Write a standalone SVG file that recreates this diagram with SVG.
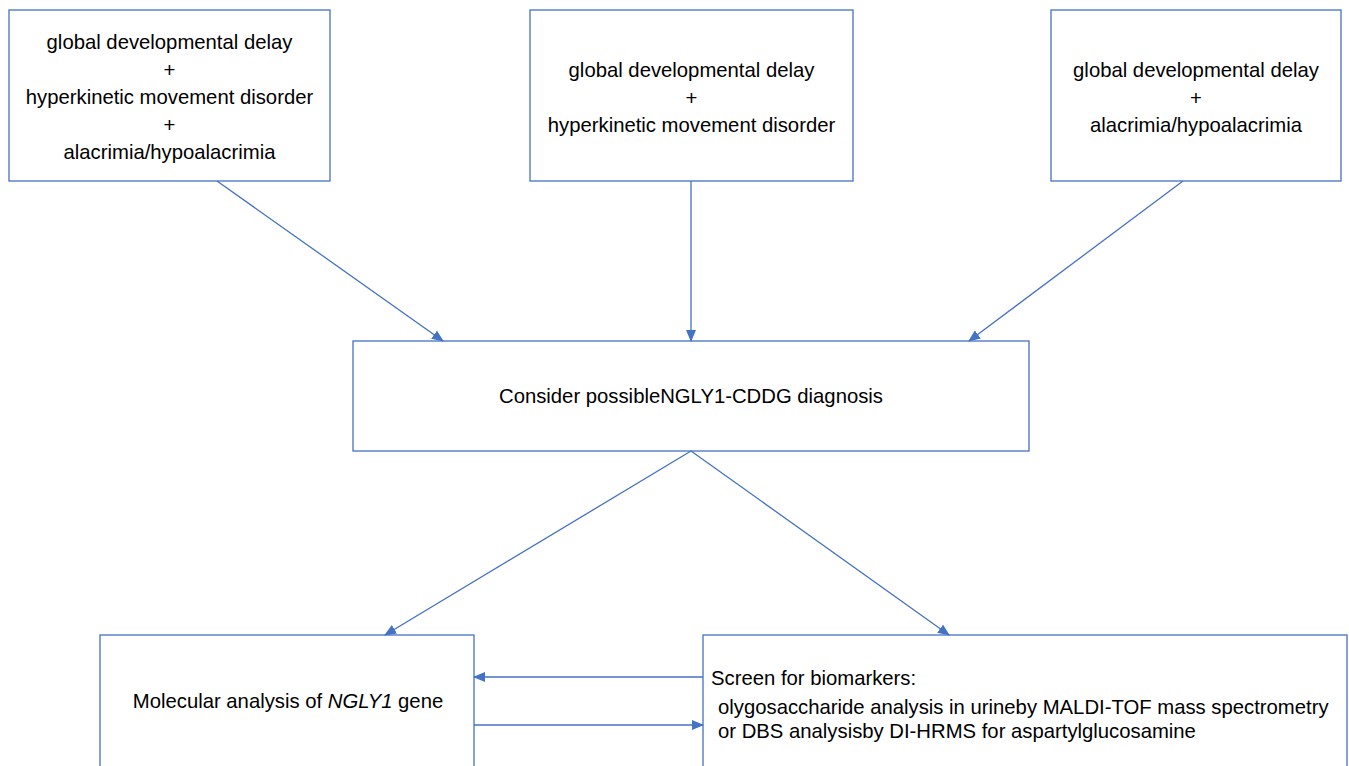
<svg xmlns="http://www.w3.org/2000/svg" width="1349" height="766" viewBox="0 0 1349 766">
<style>
.box{fill:#fff;stroke:#4472C4;stroke-width:1.3}
.t{font-family:"Liberation Sans",Arial,sans-serif;font-size:20.3px;fill:#000}
.c{text-anchor:middle}
.ln{stroke:#4472C4;stroke-width:1.3;fill:none;marker-end:url(#ah)}
</style>
<defs>
<marker id="ah" markerWidth="12" markerHeight="10" refX="11" refY="5" orient="auto" markerUnits="userSpaceOnUse">
<path d="M0,0 L12,5 L0,10 z" fill="#4472C4"/>
</marker>
</defs>
<rect width="1349" height="766" fill="#fff"/>
<g id="n1">
<rect class="box" x="9" y="10" width="321" height="171"/>
<text class="t c" x="169.5" y="49">global developmental delay</text>
<text class="t c" x="169.5" y="77">+</text>
<text class="t c" x="169.5" y="104">hyperkinetic movement disorder</text>
<text class="t c" x="169.5" y="132">+</text>
<text class="t c" x="169.5" y="159">alacrimia/hypoalacrimia</text>
</g>
<g id="n2">
<rect class="box" x="530" y="10" width="323" height="171"/>
<text class="t c" x="691.5" y="77">global developmental delay</text>
<text class="t c" x="691.5" y="105">+</text>
<text class="t c" x="691.5" y="132">hyperkinetic movement disorder</text>
</g>
<g id="n3">
<rect class="box" x="1051" y="10" width="290" height="171"/>
<text class="t c" x="1196" y="77">global developmental delay</text>
<text class="t c" x="1196" y="105">+</text>
<text class="t c" x="1196" y="132">alacrimia/hypoalacrimia</text>
</g>
<g id="n4">
<rect class="box" x="353" y="341" width="676" height="110"/>
<text class="t c" x="691" y="403">Consider possibleNGLY1-CDDG diagnosis</text>
</g>
<g id="n5">
<rect class="box" x="100" y="635" width="374" height="140"/>
<text class="t c" x="288" y="708">Molecular analysis of <tspan font-style="italic">NGLY1</tspan> gene</text>
</g>
<g id="n6">
<rect class="box" x="703" y="635" width="644" height="140"/>
<text class="t" x="711" y="685">Screen for biomarkers:</text>
<text class="t" x="718" y="714">olygosaccharide analysis in urineby MALDI-TOF mass spectrometry</text>
<text class="t" x="718" y="738">or DBS analysisby DI-HRMS for aspartylglucosamine</text>
</g>
<g id="connectors">
<line class="ln" x1="217" y1="181" x2="443" y2="341"/>
<line class="ln" x1="691" y1="181" x2="691" y2="341"/>
<line class="ln" x1="1183" y1="181" x2="969" y2="341"/>
<line class="ln" x1="691" y1="451" x2="385" y2="635"/>
<line class="ln" x1="691" y1="451" x2="949" y2="635"/>
<line class="ln" x1="703" y1="677" x2="474" y2="677"/>
<line class="ln" x1="474" y1="725" x2="703" y2="725"/>
</g>
</svg>
